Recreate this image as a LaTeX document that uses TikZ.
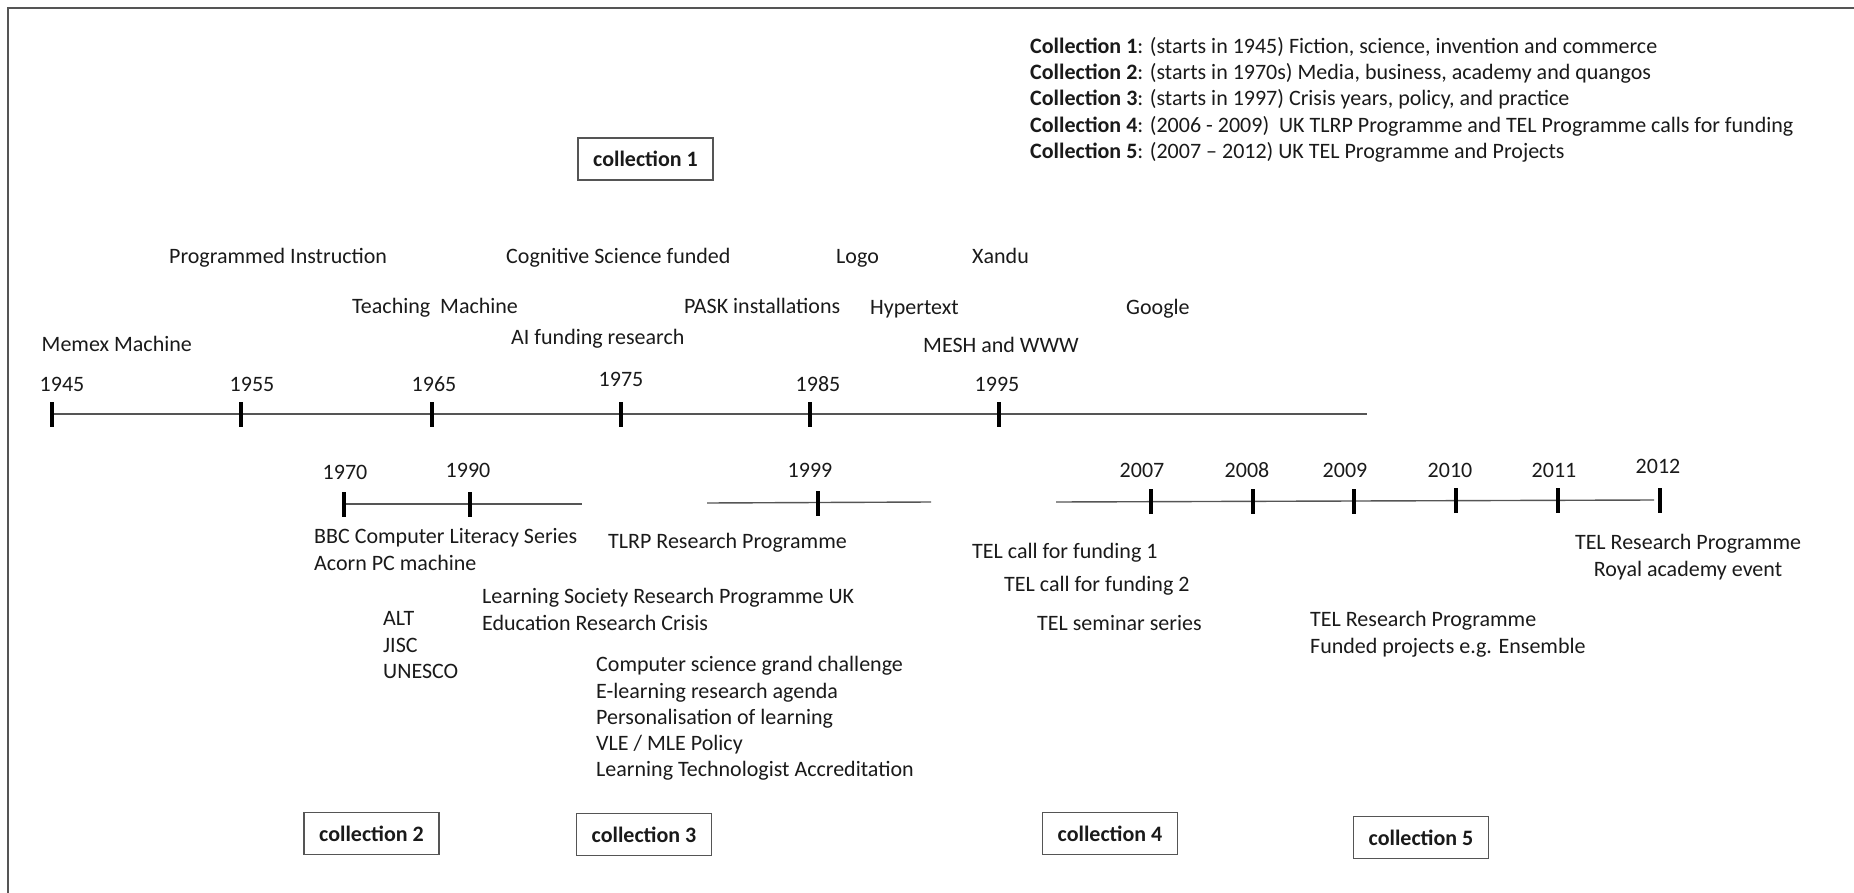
\documentclass[tikz,border=0pt]{standalone}
\usepackage{fontspec}
\setmainfont{Carlito}
\definecolor{ink}{HTML}{1A1A1A}
\definecolor{rule}{HTML}{555555}
\tikzset{
  lbl/.style={anchor=base west, inner sep=0pt, text=ink, font=\fontsize{22}{26}\selectfont},
  yr/.style={anchor=base, inner sep=0pt, text=ink, font=\fontsize{22}{26}\selectfont},
  cbox/.style={draw=rule, line width=1.3pt, minimum width=135pt, minimum height=42pt, inner sep=0pt, text=ink, font=\fontsize{22}{26}\selectfont\bfseries},
  axis/.style={draw=rule, line width=1.4pt},
  tick/.style={draw=black, line width=3.2pt},
  frame/.style={draw=rule, line width=1.5pt}
}
\begin{document}
\begin{tikzpicture}[x=1pt, y=-1pt]
\useasboundingbox (0,0) rectangle (1854,893);
% outer frame (left and top edges)
\coordinate (fbl) at (8,900);
\coordinate (ftl) at (8,8);
\coordinate (ftr) at (1860,8);
\draw[frame] (fbl) -- (ftl) -- (ftr);

% legend
\node[lbl] (leg1) at (1030,54) {\textbf{Collection 1}: (starts in 1945) Fiction, science, invention and commerce};
\node[lbl] (leg2) at (1030,80) {\textbf{Collection 2}: (starts in 1970s) Media, business, academy and quangos};
\node[lbl] (leg3) at (1030,106) {\textbf{Collection 3}: (starts in 1997) Crisis years, policy, and practice};
\node[lbl] (leg4) at (1030,133) {\textbf{Collection 4}: (2006 - 2009)\ \ UK TLRP Programme and TEL Programme calls for funding};
\node[lbl] (leg5) at (1030,159) {\textbf{Collection 5}: (2007 -- 2012) UK TEL Programme and Projects};

% collection boxes
\node[cbox] (c1) at (645.5,159) {collection 1};
\node[cbox] (c2) at (371.5,833.5) {collection 2};
\node[cbox] (c3) at (644,834.5) {collection 3};
\node[cbox] (c4) at (1110,833.5) {collection 4};
\node[cbox] (c5) at (1421,837.5) {collection 5};

% main timeline
\coordinate (t1945) at (52,414);
\coordinate (t1955) at (241,414);
\coordinate (t1965) at (432,414);
\coordinate (t1975) at (621,414);
\coordinate (t1985) at (810,414);
\coordinate (t1995) at (999,414);
\coordinate (tend) at (1367,414);
\draw[axis] (t1945) -- (tend);
\foreach \t in {t1945,t1955,t1965,t1975,t1985,t1995}
  \draw[tick] ([yshift=-12.5pt]\t) -- ([yshift=12.5pt]\t);
\node[yr] (y1945) at (62,391) {1945};
\node[yr] (y1955) at (252,391) {1955};
\node[yr] (y1965) at (434,391) {1965};
\node[yr] (y1975) at (621,386) {1975};
\node[yr] (y1985) at (818,391) {1985};
\node[yr] (y1995) at (997,391) {1995};

% events above the main timeline
\node[lbl] (memex) at (41.5,351) {Memex Machine};
\node[lbl] (prog) at (169,263) {Programmed Instruction};
\node[lbl] (teach) at (352,313) {Teaching\ \ Machine};
\node[lbl] (cogsci) at (506,264) {Cognitive Science funded};
\node[lbl] (ai) at (511,344) {AI funding research};
\node[lbl] (pask) at (684,313) {PASK installations};
\node[lbl] (logo) at (836,264) {Logo};
\node[lbl] (hyper) at (870,314) {Hypertext};
\node[lbl] (mesh) at (923,352) {MESH and WWW};
\node[lbl] (xandu) at (972,264) {Xandu};
\node[lbl] (google) at (1126,314) {Google};

% 1970 / 1990 segment
\coordinate (s1970) at (344,504);
\coordinate (s1990) at (470,504);
\coordinate (sAend) at (582,504);
\draw[axis] (s1970) -- (sAend);
\draw[tick] ([yshift=-12.5pt]s1970) -- ([yshift=12.5pt]s1970);
\draw[tick] ([yshift=-12.5pt]s1990) -- ([yshift=12.5pt]s1990);
\node[yr] (y1970) at (345,479) {1970};
\node[yr] (y1990) at (468,477) {1990};

% 1999 segment
\coordinate (sBstart) at (707,503);
\coordinate (s1999) at (818,503);
\coordinate (sBend) at (931,502);
\draw[axis] (sBstart) -- (sBend);
\draw[tick] ([yshift=-12.5pt]s1999) -- ([yshift=12.5pt]s1999);
\node[yr] (y1999) at (810,477) {1999};

% 2007 - 2012 segment
\coordinate (sCstart) at (1056,502);
\coordinate (s2007) at (1151,501.5);
\coordinate (s2008) at (1253,501.3);
\coordinate (s2009) at (1354,501);
\coordinate (s2010) at (1456,500.7);
\coordinate (s2011) at (1558,500.4);
\coordinate (sCend) at (1654,500);
\coordinate (s2012) at (1660,500);
\draw[axis] (sCstart) -- (sCend);
\foreach \t in {s2007,s2008,s2009,s2010,s2011,s2012}
  \draw[tick] ([yshift=-12.5pt]\t) -- ([yshift=12.5pt]\t);
\node[yr] (y2007) at (1142,477) {2007};
\node[yr] (y2008) at (1247,477) {2008};
\node[yr] (y2009) at (1345,477) {2009};
\node[yr] (y2010) at (1450,477) {2010};
\node[yr] (y2011) at (1554,477) {2011};
\node[yr] (y2012) at (1658,473) {2012};

% events below the segments
\node[lbl] (bbc) at (314,543) {BBC Computer Literacy Series};
\node[lbl] (acorn) at (314,570) {Acorn PC machine};
\node[lbl] (alt) at (383,625) {ALT};
\node[lbl] (jisc) at (383,652) {JISC};
\node[lbl] (unesco) at (383,678) {UNESCO};
\node[lbl] (tlrp) at (608,548) {TLRP Research Programme};
\node[lbl] (lsrp) at (482,603) {Learning Society Research Programme UK};
\node[lbl] (erc) at (482,630) {Education Research Crisis};
\node[lbl] (csgc) at (596,671) {Computer science grand challenge};
\node[lbl] (elra) at (596,698) {E-learning research agenda};
\node[lbl] (pers) at (596,724) {Personalisation of learning};
\node[lbl] (vle) at (596,750) {VLE / MLE Policy};
\node[lbl] (lta) at (596,776) {Learning Technologist Accreditation};
\node[lbl] (tel1) at (972,558) {TEL call for funding 1};
\node[lbl] (tel2) at (1004,591) {TEL call for funding 2};
\node[lbl] (telsem) at (1037,630) {TEL seminar series};
\node[lbl] (telrp) at (1310,626) {TEL Research Programme};
\node[lbl] (funded) at (1310,653) {Funded projects e.g. Ensemble};
\node[yr] (telrp2) at (1688,549) {TEL Research Programme};
\node[yr] (royal) at (1688,576) {Royal academy event};
\end{tikzpicture}
\end{document}
